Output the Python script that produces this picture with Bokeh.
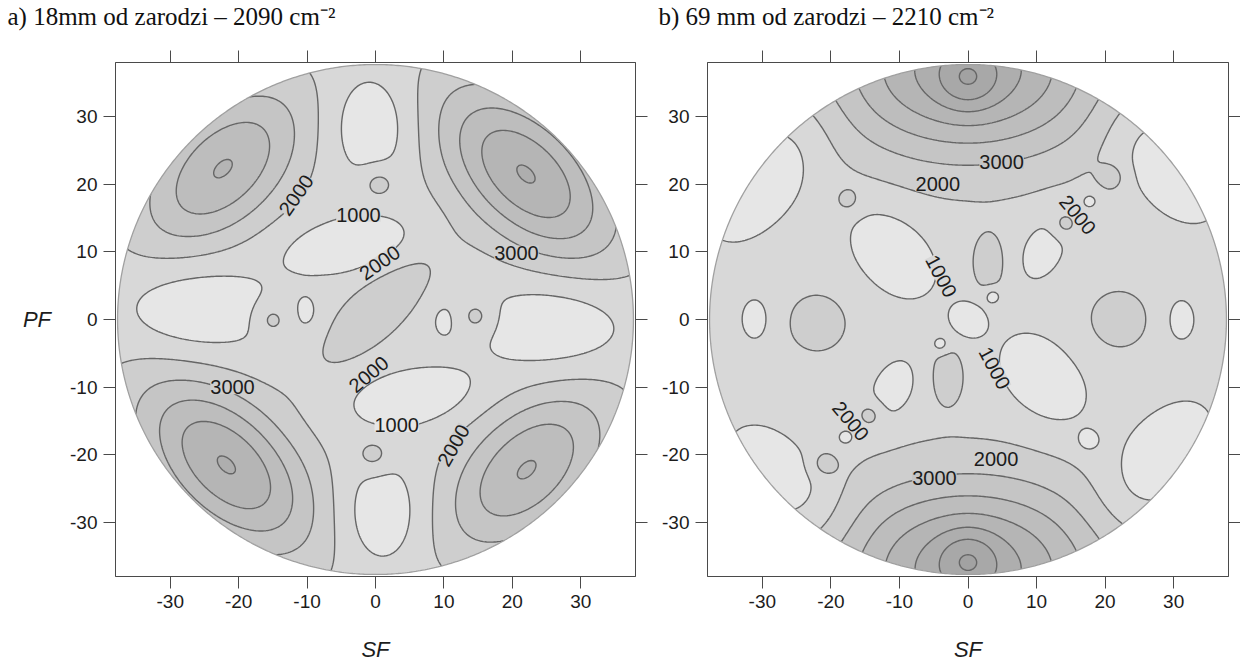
import numpy as np
from bokeh.plotting import figure
from bokeh.layouts import row, column
from bokeh.models import LinearAxis, FixedTicker, Range1d, ColumnDataSource, Axis
from bokeh.core.properties import value
from bokeh.embed import file_html
from bokeh.resources import INLINE

# ---------------- data ----------------
ticks = [-30, -20, -10, 0, 10, 20, 30]
tick_labels = ["-30", "-20", "-10", "0", "10", "20", "30"]
levels = [1000, 2000, 3000, 4000, 5000, 6000, 7000, 8000]
band_colors = ["#e6e6e6", "#d8d8d8", "#cecece", "#c5c5c5", "#bdbdbd",
               "#b5b5b5", "#aeaeae", "#a8a8a8", "#a2a2a2"]

titles = ["a) 18mm od zarodzi – 2090 cm⁻²", "b) 69 mm od zarodzi – 2210 cm⁻²"]
x_label = "SF"
y_label = "PF"

# panel a: extrema of the density map (centre, height above background, spread, orientation)
a_background = 1500
a_x   = [22.0, -22.3, -21.8, 22.1, -0.6, 0.8, -26.6, 26.6, -3.7, 5.5, 0.3, -10.0, 9.9, -15.2, 14.8, 0.4, -0.3]
a_y   = [21.5, 22.3, -21.5, -22.2, 29.0, -29.0, 1.4, -1.0, 11.0, -11.5, 1.7, 0.9, -0.1, 0.0, 0.4, 20.1, -20.0]
a_amp = [4550, 3550, 4550, 3550, -1400, -1400, -1400, -1400, -1300, -1300, 1300, -600, -600, 1050, 1050, 1050, 1050]
a_sx  = [11.0, 10.0, 11.0, 10.0, 4.6, 4.6, 7.8, 7.8, 7.0, 6.5, 8.0, 1.5, 1.5, 1.8, 1.8, 1.8, 1.8]
a_sy  = [6.2, 5.8, 6.2, 5.8, 5.6, 5.6, 5.3, 5.3, 3.0, 3.0, 3.0, 2.2, 2.2, 1.8, 1.8, 1.8, 1.8]
a_rot = [-45, 45, -45, 45, 0, 0, 0, 0, 8, 8, 45, 0, 0, 0, 0, 0, 0]

a_lab_x = [-11.6, -2.5, 0.6, 20.6, -20.9, -1.0, 3.1, 11.4]
a_lab_y = [18.4, 15.5, 8.4, 9.9, -10.0, -8.1, -15.6, -18.6]
a_lab_t = ["2000", "1000", "2000", "3000", "3000", "2000", "1000", "2000"]
a_lab_ang = [55, 0, 35, 0, 0, 40, 0, 60]

# panel b
b_background = 1500
b_x   = [0, 0, 0, 0, -22, 22, -31, 31, -29.5, 28.5, 27.5, -26.5, -11, 11, 3, -3, 0, 11, -11,
         14, 17.7, 20.9, -14.2, -17.8, -21, -17.6, 17.5, 3.6, -4.0]
b_y   = [35.5, 37, -35.5, -37, -0.5, 0, 0, 0, 21.5, 23.5, -21.5, -24.5, 10, -9, 8, -8, 0, 10.5, -10.5,
         14, 17.6, 21, -14, -17.5, -21.3, 17.6, -18, 3.5, -3.7]
b_amp = [1500, 5200, 1500, 5200, 1000, 1000, -800, -800, -1300, -1300, -1300, -1300, -1200, -1200,
         1000, 1000, -1300, -1000, -1000, 1000, -800, 1000, 1000, -800, 1000, 900, -800, -1100, -1100]
b_sx  = [3, 14, 3, 14, 3.5, 3.5, 2, 2, 8.5, 8, 8, 8, 6, 6, 2, 2, 1.9, 4, 4,
         1.4, 1.3, 1.4, 1.4, 1.3, 1.4, 1.3, 1.3, 0.9, 0.9]
b_sy  = [3, 9, 3, 9, 3.5, 3.5, 3, 3, 4.5, 4.5, 4.5, 4.5, 4, 4, 3.5, 3.5, 1.9, 2.5, 2.5,
         1.4, 1.3, 1.4, 1.4, 1.3, 1.4, 1.3, 1.3, 0.9, 0.9]
b_rot = [0, 0, 0, 0, 0, 0, 0, 0, 53, -51, 52, -47, -50, -50, 0, 0, 0, 65, 65,
         0, 0, 0, 0, 0, 0, 0, 0, 0, 0]

b_lab_x = [-4.4, 4.9, -3.9, 16.0, -17.1, 3.9, 4.1, -4.9]
b_lab_y = [20.0, 23.3, 6.4, 15.5, -15.0, -7.2, -20.6, -23.5]
b_lab_t = ["2000", "3000", "1000", "2000", "2000", "1000", "2000", "3000"]
b_lab_ang = [0, 0, -62, -50, -50, -62, 0, 0]

# ---------------- helpers ----------------
grid = np.linspace(-38, 38, 305)
R = 37.7


def density(base, xs, ys, amps, sxs, sys_, rots):
    gx, gy = np.meshgrid(grid, grid)
    z = np.full(gx.shape, float(base))
    for x0, y0, a, sx, sy, r in zip(xs, ys, amps, sxs, sys_, rots):
        t = np.radians(r)
        dx, dy = gx - x0, gy - y0
        u = dx * np.cos(t) + dy * np.sin(t)
        v = -dx * np.sin(t) + dy * np.cos(t)
        z += a * np.exp(-0.5 * ((u / sx) ** 2 + (v / sy) ** 2))
    return z


def band_of(val):
    i = 0
    for lv in levels:
        if val >= lv:
            i += 1
    return band_colors[i]


AXC = "#4a4a4a"
TXT = "#1c1c1c"
HAS_ORIENT = "axis_label_orientation" in Axis.properties()


def style_axis(ax, labelled):
    ax.ticker = FixedTicker(ticks=ticks)
    ax.axis_line_color = AXC
    ax.major_tick_line_color = AXC
    ax.major_tick_in = 0
    ax.major_tick_out = 12
    ax.minor_tick_line_color = None
    ax.major_label_text_font = "Liberation Sans"
    if labelled:
        ax.major_label_overrides = {t: s for t, s in zip(ticks, tick_labels)}
        ax.major_label_text_font_size = "19px"
        ax.major_label_text_color = TXT
        ax.major_label_standoff = 6
    else:
        ax.major_label_text_font_size = "1px"
        ax.major_label_text_color = None
        ax.major_label_standoff = 0


def make_panel(width, height, bl, br, bt, bb, z, lx, ly, lt, la, with_ylabel):
    p = figure(width=width, height=height, x_range=Range1d(-38, 38), y_range=Range1d(-38, 38),
               min_border_left=bl, min_border_right=br, min_border_top=bt, min_border_bottom=bb,
               output_backend="svg", toolbar_location=None, tools="", title=None,
               background_fill_color="white", border_fill_color="white")
    p.grid.visible = False
    p.outline_line_color = AXC
    p.outline_line_width = 1

    p.contour(x=grid, y=grid, z=z, levels=[-1e6] + levels + [1e6],
              fill_color=band_colors, line_color="#666666", line_width=1.4)

    th = np.linspace(0, 2 * np.pi, 721)
    cx = (R * np.cos(th)).tolist()
    cy = (R * np.sin(th)).tolist()
    p.multi_polygons(xs=[[[[-40, 40, 40, -40], cx]]], ys=[[[[-40, -40, 40, 40], cy]]],
                     fill_color="white", line_color=None)
    p.line(cx, cy, line_color="#a0a0a0", line_width=1.3)

    bgs = []
    for x0, y0 in zip(lx, ly):
        j = int(np.argmin(np.abs(grid - x0)))
        i = int(np.argmin(np.abs(grid - y0)))
        bgs.append(band_of(z[i, j]))
    src = ColumnDataSource(dict(x=lx, y=ly, text=lt, angle=np.radians(la).tolist(), bg=bgs))
    p.text(x="x", y="y", text="text", angle="angle", source=src,
           text_align="center", text_baseline="middle",
           text_font=value("Liberation Sans"), text_font_size="20px", text_color=TXT,
           background_fill_color="bg")

    p.add_layout(LinearAxis(), "right")
    p.add_layout(LinearAxis(), "above")
    style_axis(p.below[0], True)
    style_axis(p.left[0], True)
    style_axis(p.right[0], False)
    style_axis(p.above[0], False)

    xa = p.below[0]
    xa.axis_label = x_label
    xa.axis_label_text_font = "Liberation Sans"
    xa.axis_label_text_font_style = "italic"
    xa.axis_label_text_font_size = "22px"
    xa.axis_label_text_color = TXT
    xa.axis_label_standoff = 26

    if with_ylabel:
        ya = p.left[0]
        ya.axis_label = y_label
        ya.axis_label_text_font = "Liberation Sans"
        ya.axis_label_text_font_style = "italic"
        ya.axis_label_text_font_size = "22px"
        ya.axis_label_text_color = TXT
        ya.axis_label_standoff = 16
        if HAS_ORIENT:
            ya.axis_label_orientation = "horizontal"
    return p


# title strip above both panels (pixel coordinates, y measured upward from its bottom)
TH = 40
tf = figure(width=1240, height=TH, x_range=Range1d(0, 1240), y_range=Range1d(0, TH),
            min_border=0, output_backend="svg", toolbar_location=None, tools="", title=None,
            x_axis_type=None, y_axis_type=None, background_fill_color="white",
            border_fill_color="white", outline_line_color=None)
tf.grid.visible = False
tf.text(x=[7, 658], y=[TH - 16, TH - 16], text=titles, text_font=value("Liberation Serif"),
        text_font_size="25px", text_color="#111111", text_align="left", text_baseline="middle")

za = density(a_background, a_x, a_y, a_amp, a_sx, a_sy, a_rot)
zb = density(b_background, b_x, b_y, b_amp, b_sx, b_sy, b_rot)

PH = 664 - TH
pa = make_panel(650, PH, 115, 15, 55 - TH, 88, za, a_lab_x, a_lab_y, a_lab_t, a_lab_ang, True)
pb = make_panel(590, PH, 57, 12, 62 - TH, 82, zb, b_lab_x, b_lab_y, b_lab_t, b_lab_ang, False)

layout = column(tf, row(pa, pb, spacing=0), spacing=0)
open("out.html", "w").write(file_html(layout, INLINE))
